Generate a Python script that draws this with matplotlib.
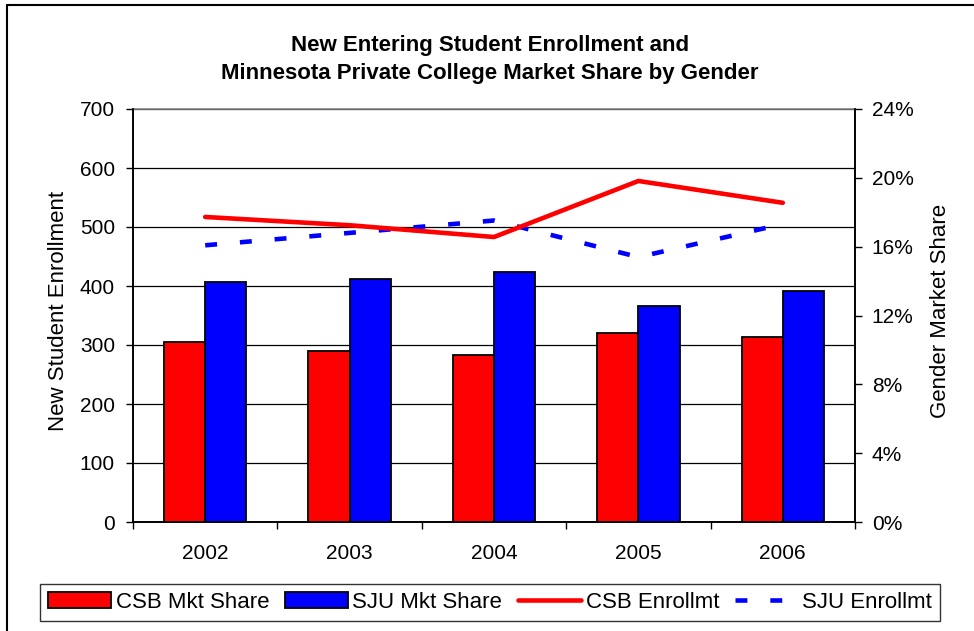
import matplotlib
matplotlib.use("Agg")
import matplotlib.pyplot as plt
from matplotlib.patches import Patch, Rectangle
from matplotlib.lines import Line2D
from matplotlib.ticker import FixedLocator, PercentFormatter
import numpy as np

plt.rcParams['font.family'] = ['Liberation Sans', 'DejaVu Sans']

years = ['2002', '2003', '2004', '2005', '2006']
csb_share = [10.45, 9.95, 9.7, 11.0, 10.75]
sju_share = [13.95, 14.15, 14.55, 12.55, 13.4]
csb_enroll = [517, 503, 483, 578, 541]
sju_enroll = [469, 490, 511, 449, 505]

fig = plt.figure(figsize=(9.74, 6.31), dpi=100)
pos = [133/974, (631-522)/631, 722/974, 413/631]

# background axes: enrollment scale, gridlines, left ticks
axg = fig.add_axes(pos)
x = np.arange(len(years))
axg.set_xlim(-0.5, len(years) - 0.5)
axg.set_ylim(0, 700)
axg.set_yticks(np.arange(0, 701, 100))
axg.grid(axis='y', color='black', linewidth=0.9)
axg.set_axisbelow(True)
axg.set_xticks(x)
axg.set_xticklabels(years)
axg.xaxis.set_minor_locator(FixedLocator(np.arange(-0.5, len(years), 1.0)))
axg.tick_params(axis='x', which='major', length=0, pad=16, labelsize=15)
axg.tick_params(axis='x', which='minor', length=5, width=1, direction='out')
axg.tick_params(axis='y', length=5, width=1, pad=8, labelsize=15)
axg.set_ylabel('New Student Enrollment', fontsize=16)
axg.yaxis.set_label_coords((69 - 133) / 722, 0.51)
for s in ['left', 'right', 'bottom']:
    axg.spines[s].set_color('black')
    axg.spines[s].set_linewidth(1.2)
axg.spines['top'].set_color('#808080')
axg.spines['top'].set_linewidth(1.2)

# bars: market share on the right axis
axb = axg.twinx()
bw = 0.285
axb.bar(x - bw/2, csb_share, bw, color='#FF0000', edgecolor='black', linewidth=1.3, zorder=3)
axb.bar(x + bw/2, sju_share, bw, color='#0000FF', edgecolor='black', linewidth=1.3, zorder=3)
axb.set_ylim(0, 24)
axb.set_xlim(-0.5, len(years) - 0.5)
axb.set_yticks(np.arange(0, 25, 4))
axb.yaxis.set_major_formatter(PercentFormatter(decimals=0))
axb.tick_params(axis='y', length=5, width=1, pad=7, labelsize=15)
axb.set_ylabel('Gender Market Share', fontsize=16)
axb.yaxis.set_label_coords((930 - 133) / 722, 0.51)
axb.spines['top'].set_visible(False)
for s in ['left', 'right', 'bottom']:
    axb.spines[s].set_color('black')
    axb.spines[s].set_linewidth(1.2)

# lines: enrollment on top
axl = axg.twinx()
axl.plot(x, csb_enroll, color='#FF0000', linewidth=3.3, solid_capstyle='round', zorder=5)
axl.plot(x, sju_enroll, color='#0000FF', linewidth=3.3, linestyle=(0, (2.6, 5.0)),
         dash_capstyle='butt', zorder=4)
axl.set_ylim(0, 700)
axl.set_xlim(-0.5, len(years) - 0.5)
axl.set_yticks([])
for s in axl.spines.values():
    s.set_visible(False)

fig.text(0.503, 1 - 45/631, 'New Entering Student Enrollment and', ha='center', va='center',
         fontsize=16, fontweight='bold')
fig.text(0.503, 1 - 73/631, 'Minnesota Private College Market Share by Gender', ha='center', va='center',
         fontsize=16, fontweight='bold')

handles = [
    Patch(facecolor='#FF0000', edgecolor='black', linewidth=1.3),
    Patch(facecolor='#0000FF', edgecolor='black', linewidth=1.3),
    Line2D([], [], color='#FF0000', linewidth=3.3, solid_capstyle='round'),
    Line2D([], [], color='#0000FF', linewidth=3.3, linestyle=(0, (2.6, 5.0)), dash_capstyle='butt'),
]
labels = ['CSB Mkt Share', 'SJU Mkt Share', 'CSB Enrollmt', 'SJU Enrollmt']
leg = fig.legend(handles, labels, loc='center', bbox_to_anchor=(490/974, 1 - 602.5/631), ncol=4,
                 fontsize=16, frameon=True, fancybox=False, edgecolor='black',
                 handlelength=2.85, handletextpad=0.2, columnspacing=0.7, borderpad=0.35,
                 handleheight=0.7, borderaxespad=0)
leg.get_frame().set_linewidth(1.0)

fig.patches.append(Rectangle((7/974, -0.1), 1.2, 1 - 5/631 + 0.1, transform=fig.transFigure,
                             fill=False, edgecolor='black', linewidth=1.5))

fig.savefig('out.png', dpi=100)
